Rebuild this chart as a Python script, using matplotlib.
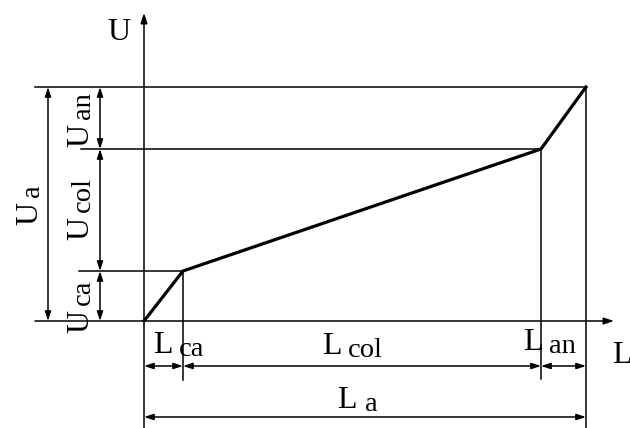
import matplotlib.pyplot as plt
import numpy as np

# segment lengths along L and voltage drops along U (cathode, column, anode)
segments = ['ca', 'col', 'an']
L_seg = [39, 358, 45]
U_seg = [50, 122, 62]

L_pts = np.concatenate([[0], np.cumsum(L_seg)])
U_pts = np.concatenate([[0], np.cumsum(U_seg)])
L_a = L_pts[-1]
U_a = U_pts[-1]

plt.rcParams['font.family'] = ['Liberation Serif', 'DejaVu Serif']
MAIN = 23
SUB = 20.5
LW = 1.1

fig = plt.figure(figsize=(6.3, 4.28), dpi=100)
ax = fig.add_axes([0, 0, 1, 1])
ax.set_xlim(-144, 486)
ax.set_ylim(-107, 321)
ax.axis('off')


def dim(p0, p1):
    ax.annotate('', xy=p1, xytext=p0,
                arrowprops=dict(arrowstyle='<|-|>,head_length=0.55,head_width=0.18',
                                lw=LW, color='k', shrinkA=0, shrinkB=0))


def axis_arrow(p0, p1):
    ax.annotate('', xy=p1, xytext=p0,
                arrowprops=dict(arrowstyle='-|>,head_length=0.6,head_width=0.2',
                                lw=LW, color='k', shrinkA=0, shrinkB=0))


# coordinate axes
axis_arrow((0, -107), (0, 308))
axis_arrow((-109, 0), (470, 0))
ax.text(-37, 281, 'U', fontsize=MAIN, ha='left', va='baseline')
ax.text(468, -42, 'L', fontsize=MAIN, ha='left', va='baseline')

# extension lines
ax.plot([-109, L_a], [U_a, U_a], color='k', lw=LW)
ax.plot([-63, L_pts[2]], [U_pts[2], U_pts[2]], color='k', lw=LW)
ax.plot([-65, L_pts[1]], [U_pts[1], U_pts[1]], color='k', lw=LW)
ax.plot([L_pts[1], L_pts[1]], [U_pts[1], -59], color='k', lw=LW)
ax.plot([L_pts[2], L_pts[2]], [U_pts[2], -58], color='k', lw=LW)
ax.plot([L_a, L_a], [U_a, -107], color='k', lw=LW)

# characteristic
ax.plot(L_pts, U_pts, color='k', lw=2.3, solid_joinstyle='miter')

# voltage dimensions
dim((-96, 0), (-96, U_a))
for i in range(3):
    dim((-44, U_pts[i]), (-44, U_pts[i + 1]))

# length dimensions
dim((0, -96), (L_a, -96))
for i in range(3):
    dim((L_pts[i], -45), (L_pts[i + 1], -45))

# voltage labels, rotated
ax.text(-107, 96, 'U', fontsize=MAIN, rotation=90, rotation_mode='anchor',
        ha='left', va='baseline')
ax.text(-105, 124, 'a', fontsize=SUB, rotation=90, rotation_mode='anchor',
        ha='left', va='baseline')
u_start = [-12, 81, 174]
for name, y0 in zip(segments, u_start):
    ax.text(-56, y0, 'U', fontsize=MAIN, rotation=90, rotation_mode='anchor',
            ha='left', va='baseline')
    ax.text(-54, y0 + 28, name, fontsize=SUB, rotation=90, rotation_mode='anchor',
            ha='left', va='baseline')

# length labels
l_start = [(9, -32), (178, -33), (379, -29)]
for name, (x0, y0) in zip(segments, l_start):
    ax.text(x0, y0, 'L', fontsize=MAIN, ha='left', va='baseline')
    ax.text(x0 + 26, y0 - 3, name, fontsize=SUB, ha='left', va='baseline')
ax.text(193, -87, 'L', fontsize=MAIN, ha='left', va='baseline')
ax.text(221, -90, 'a', fontsize=SUB, ha='left', va='baseline')

fig.savefig('out.png', dpi=100)
